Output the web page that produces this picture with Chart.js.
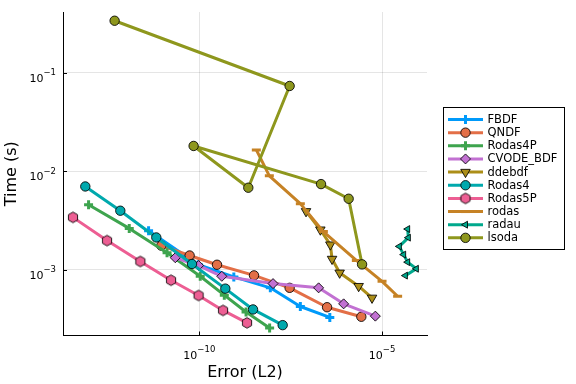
<!DOCTYPE html>
<html lang="en">
<head>
<meta charset="UTF-8">
<title>Work-precision</title>
<script src="https://cdn.jsdelivr.net/npm/chart.js"></script>
<style>
  html, body { margin: 0; padding: 0; background: #fff; }
</style>
</head>
<body>
<canvas id="chart" width="576" height="384"></canvas>
<script>
// values (error L2, time in s)
const fbdfErr = [4.09e-12, 9.40e-11, 8.79e-10, 8.77e-9, 5.81e-8, 3.72e-7];
const fbdfTime = [2.48e-3, 1.12e-3, 8.43e-4, 6.53e-4, 4.22e-4, 3.27e-4];
const qndfErr = [9.12e-12, 5.43e-11, 3.05e-10, 3.14e-9, 2.96e-8, 3.13e-7, 2.71e-6];
const qndfTime = [1.75e-3, 1.39e-3, 1.12e-3, 8.73e-4, 6.53e-4, 4.15e-4, 3.32e-4];
const rodas4pErr = [9.33e-14, 1.21e-12, 1.31e-11, 1.06e-10, 4.83e-10, 1.90e-9, 8.39e-9];
const rodas4pTime = [4.56e-3, 2.62e-3, 1.48e-3, 8.55e-4, 5.50e-4, 3.71e-4, 2.56e-4];
const cvodeErr = [2.20e-11, 9.57e-11, 4.13e-10, 1.04e-8, 1.84e-7, 8.89e-7, 6.56e-6];
const cvodeTime = [1.32e-3, 1.10e-3, 8.55e-4, 7.21e-4, 6.53e-4, 4.49e-4, 3.37e-4];
const ddebdfErr = [8.32e-8, 2.05e-7, 3.85e-7, 4.29e-7, 6.92e-7, 2.29e-6, 5.32e-6];
const ddebdfTime = [3.90e-3, 2.54e-3, 1.79e-3, 1.28e-3, 9.27e-4, 6.78e-4, 5.16e-4];
const rodas4Err = [7.59e-14, 6.89e-13, 6.65e-12, 6.31e-11, 5.15e-10, 2.95e-9, 1.91e-8];
const rodas4Time = [6.98e-3, 3.96e-3, 2.12e-3, 1.14e-3, 6.41e-4, 3.94e-4, 2.73e-4];
const rodas5pErr = [3.49e-14, 2.98e-13, 2.43e-12, 1.68e-11, 9.57e-11, 4.46e-10, 2.02e-9];
const rodas5pTime = [3.39e-3, 1.97e-3, 1.21e-3, 7.80e-4, 5.46e-4, 3.85e-4, 2.88e-4];
const rodasErr = [3.63e-9, 8.24e-9, 5.81e-8, 2.48e-7, 1.98e-6, 1.00e-5, 2.67e-5];
const rodasTime = [1.64e-2, 8.95e-3, 4.67e-3, 2.43e-3, 1.24e-3, 7.60e-4, 5.36e-4];
const radauErr = [5.02e-5, 5.25e-5, 2.97e-5, 3.90e-5, 5.02e-5, 8.69e-5, 4.35e-5];
const radauTime = [2.58e-3, 2.11e-3, 1.72e-3, 1.42e-3, 1.19e-3, 1.02e-3, 8.69e-4];
const lsodaErr = [4.81e-13, 2.96e-8, 2.19e-9, 6.98e-11, 2.14e-7, 1.22e-6, 2.84e-6];
const lsodaTime = [0.336, 7.31e-2, 6.78e-3, 1.80e-2, 7.38e-3, 5.24e-3, 1.13e-3];

const xTicks = [1e-10, 1e-5];
const yTicks = [1e-3, 1e-2, 1e-1];

// hexagon marker for Rodas5P
function hexMarker(fill) {
    const c = document.createElement('canvas');
    c.width = 14; c.height = 14;
    const g = c.getContext('2d');
    g.beginPath();
    for (let k = 0; k < 6; k++) {
        const a = Math.PI / 6 + k * Math.PI / 3;
        const px = 7 + 5.3 * Math.cos(a), py = 7 + 5.3 * Math.sin(a);
        k === 0 ? g.moveTo(px, py) : g.lineTo(px, py);
    }
    g.closePath();
    g.fillStyle = fill;
    g.fill();
    g.strokeStyle = 'rgba(0,0,0,0.85)';
    g.lineWidth = 1;
    g.stroke();
    return c;
}

const series = [
    { label: 'FBDF', x: fbdfErr, y: fbdfTime, color: '#009AFA', style: 'cross', r: 4.5, outline: false },
    { label: 'QNDF', x: qndfErr, y: qndfTime, color: '#E36F47', style: 'circle', r: 4.7 },
    { label: 'Rodas4P', x: rodas4pErr, y: rodas4pTime, color: '#3EA44E', style: 'cross', r: 4.5, outline: false },
    { label: 'CVODE_BDF', x: cvodeErr, y: cvodeTime, color: '#C271D2', style: 'rectRot', r: 5 },
    { label: 'ddebdf', x: ddebdfErr, y: ddebdfTime, color: '#AC8E18', style: 'triangle', r: 5.5, rot: 180 },
    { label: 'Rodas4', x: rodas4Err, y: rodas4Time, color: '#00A9AD', style: 'circle', r: 4.7 },
    { label: 'Rodas5P', x: rodas5pErr, y: rodas5pTime, color: '#ED5E93', style: 'hex', r: 5 },
    { label: 'rodas', x: rodasErr, y: rodasTime, color: '#C68225', style: 'line', r: 4.5, outline: false },
    { label: 'radau', x: radauErr, y: radauTime, color: '#00A98D', style: 'triangle', r: 4, rot: -90 },
    { label: 'lsoda', x: lsodaErr, y: lsodaTime, color: '#8E971D', style: 'circle', r: 4.7 }
];

const datasets = series.map((s, i) => {
    const plain = s.outline === false;
    return {
        label: s.label,
        data: s.x.map((v, j) => ({ x: v, y: s.y[j] })),
        showLine: true,
        tension: 0,
        borderColor: s.color,
        borderWidth: 3,
        borderJoinStyle: 'round',
        pointStyle: s.style === 'hex' ? hexMarker(s.color) : s.style,
        pointRotation: s.rot || 0,
        pointRadius: s.r,
        pointBackgroundColor: s.color,
        pointBorderColor: plain ? s.color : 'rgba(0,0,0,0.85)',
        pointBorderWidth: plain ? 3 : 1,
        order: series.length - i   // later series on top, like the reference
    };
});

const fontFam = "'DejaVu Sans', sans-serif";

// draws 10 with a raised exponent; align 'right' or 'center'
function drawPow(ctx, v, x, baseY, align) {
    const e = Math.round(Math.log10(v)).toString().replace('-', '\u2212');
    ctx.font = '11px ' + fontFam;
    const w1 = ctx.measureText('10').width;
    ctx.font = '8.5px ' + fontFam;
    const w2 = ctx.measureText(e).width;
    const total = w1 + w2;
    const x0 = align === 'right' ? x - total : x - total / 2;
    ctx.textAlign = 'left';
    ctx.textBaseline = 'alphabetic';
    ctx.fillStyle = '#000';
    ctx.font = '11px ' + fontFam;
    ctx.fillText('10', x0, baseY);
    ctx.font = '8.5px ' + fontFam;
    ctx.fillText(e, x0 + w1, baseY - 6.5);
}

const extras = {
    id: 'extras',
    beforeDraw(chart) {
        const ctx = chart.ctx;
        ctx.save();
        ctx.fillStyle = '#fff';
        ctx.fillRect(0, 0, chart.width, chart.height);
        ctx.restore();
    },
    afterDatasetsDraw(chart) {
        const ctx = chart.ctx;
        const a = chart.chartArea;
        const xs = chart.scales.x, ys = chart.scales.y;
        ctx.save();
        // inward tick marks
        ctx.strokeStyle = '#000';
        ctx.lineWidth = 1;
        ctx.beginPath();
        xTicks.forEach(v => {
            const px = Math.round(xs.getPixelForValue(v)) + 0.5;
            ctx.moveTo(px, a.bottom); ctx.lineTo(px, a.bottom - 4);
        });
        yTicks.forEach(v => {
            const py = Math.round(ys.getPixelForValue(v)) + 0.5;
            ctx.moveTo(a.left, py); ctx.lineTo(a.left + 4, py);
        });
        ctx.stroke();

        // tick labels
        xTicks.forEach(v => drawPow(ctx, v, xs.getPixelForValue(v), 358.5, 'center'));
        yTicks.forEach(v => drawPow(ctx, v, 56, ys.getPixelForValue(v) + 9, 'right'));

        // legend box
        const bx = 443.5, by = 107.5, bw = 121, bh = 142;
        ctx.fillStyle = '#fff';
        ctx.fillRect(bx, by, bw, bh);
        ctx.strokeStyle = '#000';
        ctx.strokeRect(bx, by, bw, bh);
        ctx.font = '11.5px ' + fontFam;
        ctx.textBaseline = 'middle';
        ctx.textAlign = 'left';
        chart.data.datasets.forEach((ds, i) => {
            const yy = 119.5 + i * 13.15;
            ctx.strokeStyle = ds.borderColor;
            ctx.lineWidth = 3;
            ctx.beginPath();
            ctx.moveTo(448, yy); ctx.lineTo(483, yy);
            ctx.stroke();
            ctx.fillStyle = ds.pointBackgroundColor;
            ctx.strokeStyle = ds.pointBorderColor;
            ctx.lineWidth = ds.pointBorderWidth;
            Chart.helpers.drawPoint(ctx, {
                pointStyle: ds.pointStyle,
                rotation: ds.pointRotation,
                radius: ds.pointRadius,
                borderWidth: ds.pointBorderWidth
            }, 465.5, yy);
            ctx.fillStyle = '#000';
            ctx.fillText(ds.label, 487.5, yy + 0.5);
        });
        ctx.restore();
    }
};

new Chart(document.getElementById('chart').getContext('2d'), {
    type: 'scatter',
    data: { datasets: datasets },
    options: {
        responsive: false,
        animation: false,
        devicePixelRatio: 1,
        layout: { padding: { left: 0, right: 149, top: 12, bottom: 0 } },
        plugins: { legend: { display: false }, tooltip: { enabled: false } },
        scales: {
            x: {
                type: 'logarithmic',
                min: Math.pow(10, -13.73),
                max: Math.pow(10, -3.77),
                afterBuildTicks: s => { s.ticks = xTicks.map(v => ({ value: v })); },
                afterFit: s => { s.height = 48.5; },
                grid: { color: 'rgba(0,0,0,0.1)', drawTicks: false },
                border: { display: true, color: '#000', width: 1 },
                ticks: { display: false },
                title: {
                    display: true, text: 'Error (L2)', color: '#000',
                    font: { family: fontFam, size: 16 },
                    padding: { top: 0, bottom: 1.5 }
                }
            },
            y: {
                type: 'logarithmic',
                min: Math.pow(10, -3.669),
                max: Math.pow(10, -0.385),
                afterBuildTicks: s => { s.ticks = yTicks.map(v => ({ value: v })); },
                afterFit: s => { s.width = 63; },
                grid: { color: 'rgba(0,0,0,0.1)', drawTicks: false },
                border: { display: true, color: '#000', width: 1 },
                ticks: { display: false },
                title: {
                    display: true, text: 'Time (s)', color: '#000',
                    font: { family: fontFam, size: 16 },
                    padding: { top: 2.5, bottom: 0 }
                }
            }
        }
    },
    plugins: [extras]
});
</script>
</body>
</html>
